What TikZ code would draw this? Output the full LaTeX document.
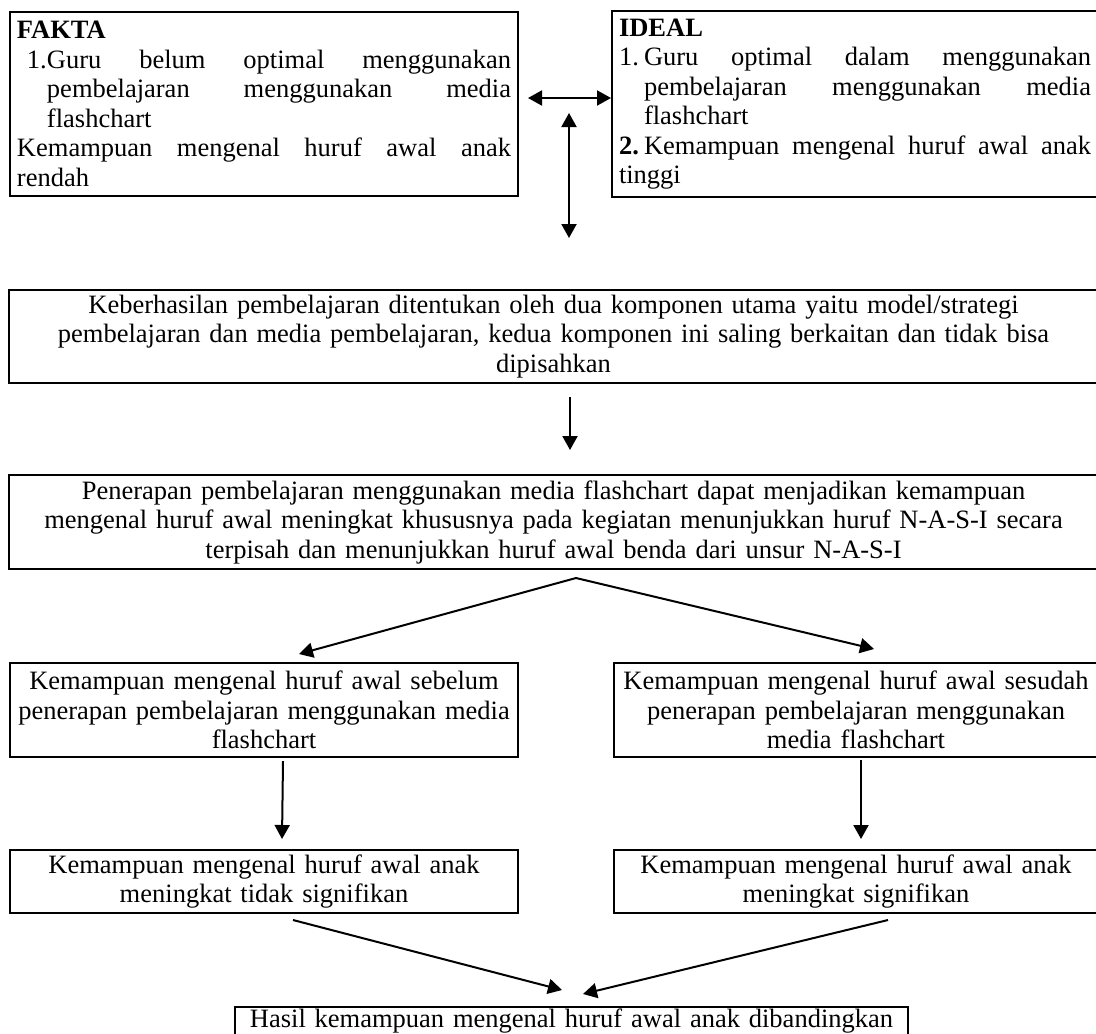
\documentclass[tikz,border=0pt]{standalone}
\usepackage{fontspec}
\setmainfont{Liberation Serif}
\usetikzlibrary{arrows.meta}

\newcommand{\boxfont}{\fontsize{13.25pt}{14.75pt}\selectfont}

\tikzset{
  kotak/.style={draw, line width=1pt, rectangle, inner sep=0pt, align=center, font=\boxfont},
  kotakjust/.style={draw, line width=1pt, rectangle, inner xsep=3.5pt, inner ysep=0pt, align=justify, font=\boxfont},
  panah/.style={line width=1pt, -{Triangle[length=7pt,width=7.5pt]}},
  panahdua/.style={line width=1pt, {Triangle[length=7pt,width=7.5pt]}-{Triangle[length=7pt,width=7.5pt]}}
}

\begin{document}
\begin{tikzpicture}[x=0.5pt, y=-0.5pt]
\useasboundingbox (0,0) rectangle (1096,1033);
\clip (0,0) rectangle (1096,1033);

\node[kotakjust, text width=247pt, minimum height=92pt] (fakta) at (264,104) {\textbf{FAKTA}\par
\hangindent=15pt\hangafter=1\hspace*{5pt}\makebox[10pt][l]{1.}Guru belum optimal menggunakan\linebreak pembelajaran menggunakan media\linebreak flashchart\par
Kemampuan mengenal huruf awal anak\linebreak rendah};
\node[kotakjust, text width=236pt, minimum height=93pt] (ideal) at (855,104) {\textbf{IDEAL}\par
\hangindent=12.5pt\hangafter=1\makebox[12.5pt][l]{1.}Guru optimal dalam menggunakan\linebreak pembelajaran menggunakan media\linebreak flashchart\par
\makebox[12.5pt][l]{\textbf{2.}}Kemampuan mengenal huruf awal anak\linebreak tinggi};

\node[kotak, text width=544.5pt, minimum height=46.5pt] (keber) at (553.5,336.5) {Keberhasilan pembelajaran ditentukan oleh dua komponen utama yaitu model/strategi\\ pembelajaran dan media pembelajaran, kedua komponen ini saling berkaitan dan tidak bisa\\ dipisahkan};
\node[kotak, text width=544.5pt, minimum height=47pt] (penerapan) at (553.5,522) {Penerapan pembelajaran menggunakan media flashchart dapat menjadikan kemampuan\\ mengenal huruf awal meningkat khususnya pada kegiatan menunjukkan huruf N-A-S-I secara\\ terpisah dan menunjukkan huruf awal benda dari unsur N-A-S-I};

\node[kotak, text width=254pt, minimum height=47pt] (sebelum) at (264,710) {Kemampuan mengenal huruf awal sebelum\\ penerapan pembelajaran menggunakan media\\ flashchart};
\node[kotak, text width=242pt, minimum height=47pt] (sesudah) at (856,710) {Kemampuan mengenal huruf awal sesudah\\ penerapan pembelajaran menggunakan\\ media flashchart};

\node[kotak, text width=254pt, minimum height=31.5pt] (tdksig) at (264,881.5) {Kemampuan mengenal huruf awal anak\\ meningkat tidak signifikan};
\node[kotak, text width=242pt, minimum height=31.5pt] (sig) at (856,881.5) {Kemampuan mengenal huruf awal anak\\ meningkat signifikan};

\node[kotak, text width=336.5pt, inner ysep=1pt, anchor=north] (hasil) at (571.5,1006) {Hasil kemampuan mengenal huruf awal anak dibandingkan};

\coordinate (atas) at (569,113);
\coordinate (bawah) at (569,238);
\coordinate (puncak) at ([shift={(22.5,8)}]penerapan.south);

\draw[panahdua] ([shift={(9,-6)}]fakta.east) -- ([shift={(0,-6)}]ideal.west);
\draw[panahdua] (atas) -- (bawah);
\draw[panah] ([shift={(16.5,13)}]keber.south) -- ([shift={(16.5,-24)}]penerapan.north);
\draw[panah] (puncak) -- ([shift={(35,-8)}]sebelum.north);
\draw[panah] (puncak) -- ([shift={(18,-13)}]sesudah.north);
\draw[panah] ([shift={(19,3)}]sebelum.south) -- ([shift={(18,-10)}]tdksig.north);
\draw[panah] ([shift={(5,2)}]sesudah.south) -- ([shift={(5,-10)}]sig.north);
\draw[panah] ([shift={(29,6)}]tdksig.south) -- ([shift={(-9.5,-16)}]hasil.north);
\draw[panah] ([shift={(32,6)}]sig.south) -- ([shift={(11.5,-12)}]hasil.north);
\end{tikzpicture}
\end{document}
